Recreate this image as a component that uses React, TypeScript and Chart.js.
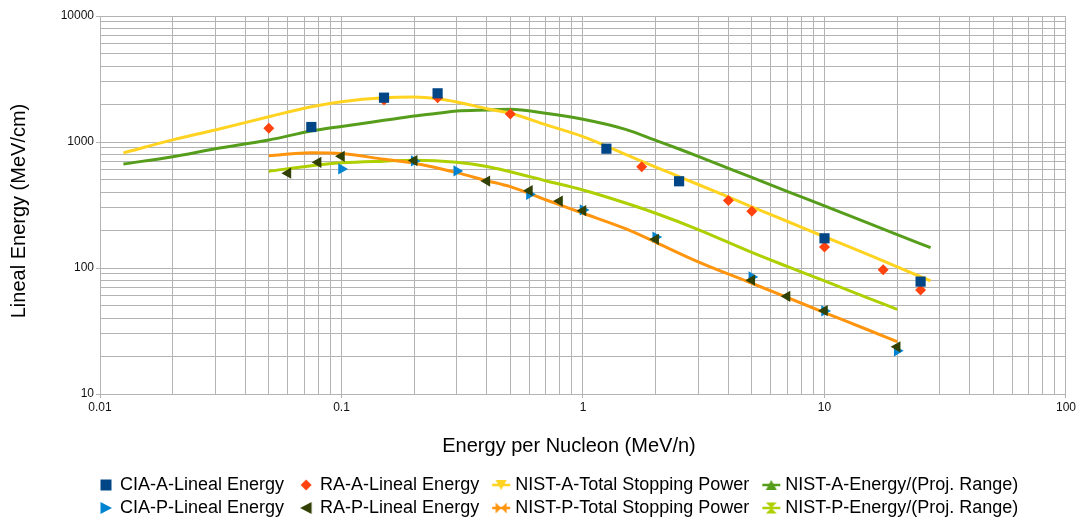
import React, { useEffect, useRef } from 'react';
import { Chart, registerables } from 'chart.js';

Chart.register(...registerables);

const FONT = "'Liberation Sans', Arial, Helvetica, sans-serif";
const CANVAS_W = 1078;
const CANVAS_H = 518;

// Measured lineal energy (MeV/cm) versus energy per nucleon (MeV/n)
const ciaAEnergy = [0.075, 0.15, 0.25, 1.25, 2.5, 10, 25];
const ciaALineal = [1315, 2248, 2434, 885, 488, 172, 78];

const raAEnergy = [0.05, 0.15, 0.25, 0.5, 1.75, 4, 5, 10, 17.5, 25];
const raALineal = [1284, 2154, 2247, 1668, 637, 344, 282, 147, 97, 67];

const ciaPEnergy = [0.1, 0.2, 0.3, 0.6, 1, 2, 5, 10, 20];
const ciaPLineal = [611, 707, 589, 384, 289, 176, 85, 45.6, 22];

const raPEnergy = [0.06, 0.08, 0.1, 0.2, 0.4, 0.6, 0.8, 1, 2, 5, 7, 10, 20];
const raPLineal = [565, 690, 770, 712, 490, 411, 340, 285, 169, 80, 59.6, 45.8, 23.7];

// NIST reference curves
const nistAEnergy = [0.0125, 0.02, 0.03, 0.05, 0.075, 0.1, 0.15, 0.2, 0.25, 0.3, 0.4, 0.5, 0.7, 1, 1.5, 2, 2.5, 3, 5, 7, 10, 15, 20, 27.5];
const nistATotal = [818, 1040, 1245, 1588, 1906, 2089, 2248, 2275, 2207, 2080, 1838, 1690, 1372, 1102, 798, 633, 531, 460, 306, 235, 177, 129, 102, 79];
const nistARange = [669, 765, 883, 1037, 1223, 1330, 1486, 1607, 1690, 1762, 1795, 1817, 1690, 1514, 1260, 1030, 880, 770, 523, 406, 311, 229, 184, 145];

const nistPEnergy = [0.05, 0.075, 0.1, 0.15, 0.2, 0.3, 0.4, 0.5, 0.7, 1, 1.5, 2, 3, 5, 7, 10, 15, 20];
const nistPTotal = [779, 822, 810, 729, 678, 571, 493, 442, 348, 272, 205, 160, 112, 75.7, 58.4, 44.3, 32.5, 26];
const nistPRange = [585, 649, 683, 705, 716, 690, 640, 581, 493, 416, 328, 272, 202, 133, 103, 79, 58.3, 47];

// Axis decades and their labels
const xTickValues = [0.01, 0.1, 1, 10, 100];
const xTickLabels = ['0.01', '0.1', '1', '10', '100'];
const yTickValues = [10, 100, 1000, 10000];
const yTickLabels = ['10', '100', '1000', '10000'];

const xTitle = 'Energy per Nucleon (MeV/n)';
const yTitle = 'Lineal Energy (MeV/cm)';

const GRID = '#b3b3b3';

const toPoints = (xs: number[], ys: number[]) => xs.map((x, i) => ({ x, y: ys[i] }));

// 1..9 × each decade, plus the final decade
function logGrid(decades: number[]) {
  const out: { value: number }[] = [];
  for (let d = 0; d < decades.length - 1; d++) {
    for (let k = 1; k <= 9; k++) out.push({ value: +(k * decades[d]).toPrecision(6) });
  }
  out.push({ value: decades[decades.length - 1] });
  return out;
}

function decadeIndex(v: number, decades: number[]) {
  return decades.findIndex((d) => Math.abs(v - d) / d < 1e-6);
}

type IconKind = 'square' | 'diamond' | 'right' | 'left' | 'down' | 'up' | 'bowtieH' | 'bowtieV';

// Small legend glyphs: marker centred at (26,10), optional line through it
function makeIcon(kind: IconKind, color: string, withLine: boolean) {
  const c = document.createElement('canvas');
  c.width = 40;
  c.height = 20;
  const g = c.getContext('2d')!;
  const cx = 26;
  const cy = 10;
  if (withLine) {
    g.strokeStyle = color;
    g.lineWidth = 2.5;
    g.beginPath();
    g.moveTo(cx - 9, cy);
    g.lineTo(cx + 9, cy);
    g.stroke();
  }
  g.fillStyle = color;
  g.beginPath();
  switch (kind) {
    case 'square':
      g.rect(cx - 5.5, cy - 5.5, 11, 11);
      break;
    case 'diamond':
      g.moveTo(cx, cy - 5.5); g.lineTo(cx + 5.5, cy); g.lineTo(cx, cy + 5.5); g.lineTo(cx - 5.5, cy);
      break;
    case 'right':
      g.moveTo(cx - 5.5, cy - 6); g.lineTo(cx + 6, cy); g.lineTo(cx - 5.5, cy + 6);
      break;
    case 'left':
      g.moveTo(cx + 5.5, cy - 6); g.lineTo(cx - 6, cy); g.lineTo(cx + 5.5, cy + 6);
      break;
    case 'down':
      g.moveTo(cx - 5.5, cy - 5); g.lineTo(cx + 5.5, cy - 5); g.lineTo(cx, cy + 5);
      break;
    case 'up':
      g.moveTo(cx - 5.5, cy + 5); g.lineTo(cx + 5.5, cy + 5); g.lineTo(cx, cy - 5);
      break;
    case 'bowtieH':
      g.moveTo(cx - 5.5, cy - 5.5); g.lineTo(cx, cy); g.lineTo(cx - 5.5, cy + 5.5); g.closePath();
      g.moveTo(cx + 5.5, cy - 5.5); g.lineTo(cx, cy); g.lineTo(cx + 5.5, cy + 5.5);
      break;
    case 'bowtieV':
      g.moveTo(cx - 5.5, cy - 5.5); g.lineTo(cx + 5.5, cy - 5.5); g.lineTo(cx, cy); g.closePath();
      g.moveTo(cx - 5.5, cy + 5.5); g.lineTo(cx + 5.5, cy + 5.5); g.lineTo(cx, cy);
      break;
  }
  g.closePath();
  g.fill();
  return c;
}

const LEGEND_FIRST_X = 89; // left edge of the first legend item box
const LEGEND_DY = 9;

const layoutTweaks = {
  id: 'layoutTweaks',
  afterLayout(chart: any) {
    const lg = chart.legend;
    if (!lg || !lg.lineWidths) return;
    const pad = lg.options.labels.padding;
    const start = (lg.left + pad + lg.right - lg.lineWidths[0]) / 2;
    const dx = LEGEND_FIRST_X - start;
    lg.left += dx;
    lg.right += dx;
    lg.top += LEGEND_DY;
    lg.bottom += LEGEND_DY;
  },
  afterDraw(chart: any) {
    const ctx = chart.ctx as CanvasRenderingContext2D;
    ctx.save();
    ctx.fillStyle = '#000';
    ctx.font = `20px ${FONT}`;
    ctx.textAlign = 'center';
    ctx.textBaseline = 'alphabetic';
    ctx.fillText(xTitle, 569, 451.5);
    ctx.translate(25, 211);
    ctx.rotate(-Math.PI / 2);
    ctx.fillText(yTitle, 0, 0);
    ctx.restore();
  },
};

export default function App() {
  const canvasRef = useRef<HTMLCanvasElement | null>(null);

  useEffect(() => {
    const canvas = canvasRef.current;
    if (!canvas) return;

    const markers = (
      label: string,
      xs: number[],
      ys: number[],
      color: string,
      style: string,
      radius: number,
      rotation: number,
      order: number,
    ) => ({
      label,
      data: toPoints(xs, ys),
      showLine: false,
      pointStyle: style,
      pointRadius: radius,
      pointHoverRadius: radius,
      pointRotation: rotation,
      backgroundColor: color,
      borderColor: color,
      pointBorderWidth: 0,
      order,
    });

    const curve = (label: string, xs: number[], ys: number[], color: string, order: number) => ({
      label,
      data: toPoints(xs, ys),
      showLine: true,
      pointRadius: 0,
      pointHoverRadius: 0,
      borderColor: color,
      backgroundColor: color,
      borderWidth: 3,
      cubicInterpolationMode: 'monotone',
      fill: false,
      order,
    });

    const datasets = [
      markers('CIA-A-Lineal Energy', ciaAEnergy, ciaALineal, '#004586', 'rect', 7.2, 0, 0),
      markers('RA-A-Lineal Energy', raAEnergy, raALineal, '#ff420e', 'rectRot', 5.5, 0, 1),
      curve('NIST-A-Total Stopping Power', nistAEnergy, nistATotal, '#ffd320', 6),
      curve('NIST-A-Energy/(Proj. Range)', nistAEnergy, nistARange, '#579d1c', 7),
      markers('CIA-P-Lineal Energy', ciaPEnergy, ciaPLineal, '#0084d1', 'triangle', 6.5, 90, 3),
      markers('RA-P-Lineal Energy', raPEnergy, raPLineal, '#314004', 'triangle', 6.5, -90, 2),
      curve('NIST-P-Total Stopping Power', nistPEnergy, nistPTotal, '#ff950e', 4),
      curve('NIST-P-Energy/(Proj. Range)', nistPEnergy, nistPRange, '#aecf00', 5),
    ];

    const icons = [
      makeIcon('square', '#004586', false),
      makeIcon('diamond', '#ff420e', false),
      makeIcon('down', '#ffd320', true),
      makeIcon('up', '#579d1c', true),
      makeIcon('right', '#0084d1', false),
      makeIcon('left', '#314004', false),
      makeIcon('bowtieH', '#ff950e', true),
      makeIcon('bowtieV', '#aecf00', true),
    ];

    const tickColor = (decades: number[]) => (c: any) =>
      c.tick && decadeIndex(c.tick.value, decades) >= 0 ? GRID : 'rgba(0,0,0,0)';

    const chart = new Chart(canvas, {
      type: 'scatter',
      data: { datasets: datasets as any },
      options: {
        animation: false,
        responsive: false,
        devicePixelRatio: 1,
        layout: { padding: { left: 0, top: 16, right: 11, bottom: 0 } },
        plugins: {
          tooltip: { enabled: false },
          legend: {
            position: 'bottom',
            labels: {
              usePointStyle: true,
              pointStyleWidth: 22,
              padding: 5,
              color: '#000',
              font: { family: FONT, size: 18 },
              generateLabels: (ch: any) =>
                ch.data.datasets.map((ds: any, i: number) => ({
                  text: ds.label,
                  fillStyle: ds.borderColor,
                  strokeStyle: ds.borderColor,
                  lineWidth: 0,
                  pointStyle: icons[i],
                  hidden: false,
                  datasetIndex: i,
                  fontColor: '#000',
                })),
            },
          },
        },
        scales: {
          x: {
            type: 'logarithmic',
            min: 0.01,
            max: 100,
            afterBuildTicks: (s: any) => {
              s.ticks = logGrid(xTickValues);
            },
            afterFit: (s: any) => {
              s.height = 68;
            },
            ticks: {
              autoSkip: false,
              maxRotation: 0,
              minRotation: 0,
              padding: 2,
              color: '#111',
              font: { family: FONT, size: 12 },
              callback: (v: any) => {
                const i = decadeIndex(Number(v), xTickValues);
                return i >= 0 ? xTickLabels[i] : '';
              },
            },
            grid: { color: GRID, lineWidth: 1, tickLength: 4, tickColor: tickColor(xTickValues) },
            border: { color: GRID },
          },
          y: {
            type: 'logarithmic',
            min: 10,
            max: 10000,
            afterBuildTicks: (s: any) => {
              s.ticks = logGrid(yTickValues);
            },
            afterFit: (s: any) => {
              s.width = 100;
            },
            ticks: {
              autoSkip: false,
              padding: 2,
              color: '#111',
              font: { family: FONT, size: 12 },
              callback: (v: any) => {
                const i = decadeIndex(Number(v), yTickValues);
                return i >= 0 ? yTickLabels[i] : '';
              },
            },
            grid: { color: GRID, lineWidth: 1, tickLength: 4, tickColor: tickColor(yTickValues) },
            border: { color: GRID },
          },
        },
      } as any,
      plugins: [layoutTweaks],
    });

    return () => chart.destroy();
  }, []);

  return (
    <div
      style={{
        position: 'fixed',
        left: 0,
        top: 0,
        width: CANVAS_W,
        height: CANVAS_H,
        background: '#fff',
      }}
    >
      <canvas ref={canvasRef} width={CANVAS_W} height={CANVAS_H} style={{ display: 'block' }} />
    </div>
  );
}
